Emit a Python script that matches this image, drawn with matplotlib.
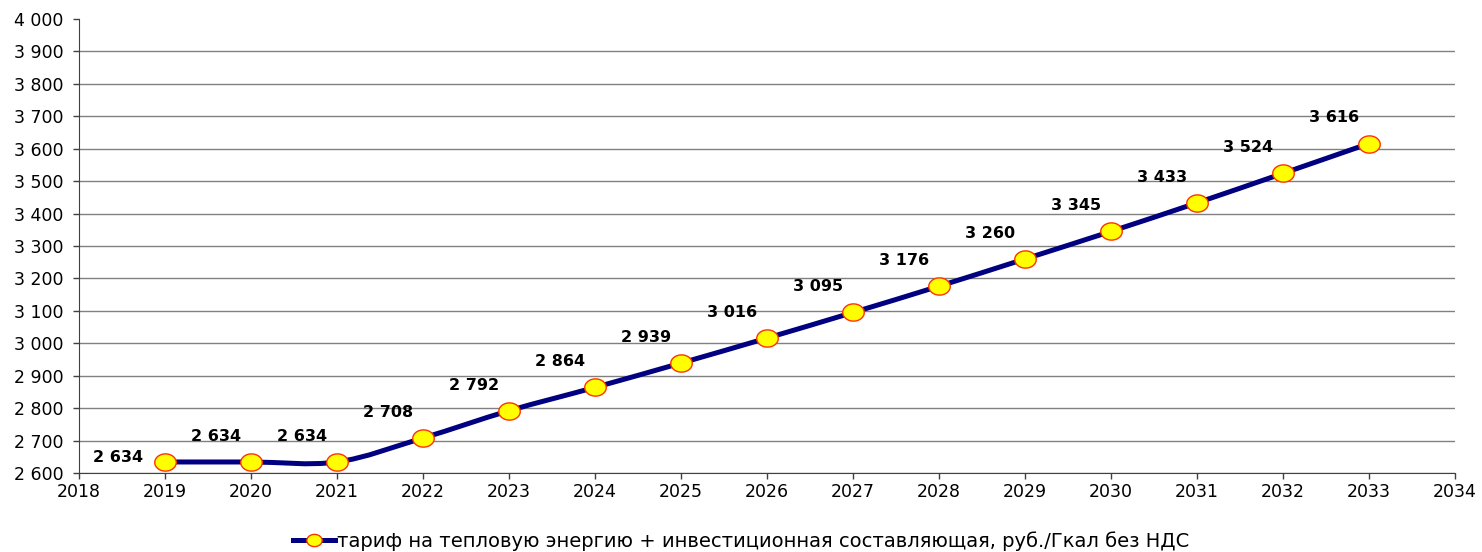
import matplotlib.pyplot as plt
import numpy as np
from matplotlib.path import Path
from matplotlib.patches import PathPatch
from matplotlib.lines import Line2D

plt.rcParams['font.family'] = ['DejaVu Sans']

years = [2019, 2020, 2021, 2022, 2023, 2024, 2025, 2026, 2027, 2028, 2029, 2030, 2031, 2032, 2033]
tariff = [2634, 2634, 2634, 2708, 2792, 2864, 2939, 3016, 3095, 3176, 3260, 3345, 3433, 3524, 3616]
series_name = 'тариф на тепловую энергию + инвестиционная составляющая, руб./Гкал без НДС'

fig = plt.figure(figsize=(14.82, 5.52), dpi=100)
ax = fig.add_axes([79/1482, 1-473/552, (1455-79)/1482, (473-19)/552])

# smoothed line like Excel (bezier segments through the data points)
x = np.array(years, dtype=float)
y = np.array(tariff, dtype=float)
verts = [(x[0], y[0])]
codes = [Path.MOVETO]
n = len(x)
for i in range(n - 1):
    x0, y0 = (x[i-1], y[i-1]) if i > 0 else (x[i], y[i])
    x3, y3 = (x[i+2], y[i+2]) if i + 2 < n else (x[i+1], y[i+1])
    c1 = (x[i] + (x[i+1] - x0) / 6, y[i] + (y[i+1] - y0) / 6)
    c2 = (x[i+1] - (x3 - x[i]) / 6, y[i+1] - (y3 - y[i]) / 6)
    verts += [c1, c2, (x[i+1], y[i+1])]
    codes += [Path.CURVE4] * 3
ax.add_patch(PathPatch(Path(verts, codes), facecolor='none', edgecolor='#000080', lw=3.6, zorder=3))

# slightly flattened circle, like the original marker
t = np.linspace(0, 2*np.pi, 60)
ellipse = Path(np.column_stack([np.cos(t), 0.8*np.sin(t)]))

ax.plot(years, tariff, ls='none', marker=ellipse, ms=15.5, mfc='#ffff00', mec='#ff3300', mew=1.0, zorder=4)

for i, (xx, yy) in enumerate(zip(years, tariff)):
    lbl = f'{yy:,}'.replace(',', ' ')
    off = (-34, 3) if i == 0 else (-25, 18.5)
    ax.annotate(lbl, (xx, yy), xytext=off, textcoords='offset points',
                ha='center', va='center', fontsize=11.5, fontweight='bold', zorder=5)

ax.set_xlim(2018, 2034)
ax.set_ylim(2600, 4000)
ax.set_xticks(range(2018, 2035))
ax.set_yticks(range(2600, 4001, 100))
ax.set_yticklabels([f'{v:,}'.replace(',', ' ') for v in range(2600, 4001, 100)])
ax.tick_params(labelsize=12.5, direction='out', length=4, color='#404040', width=1)
ax.tick_params(axis='y', pad=7)
ax.grid(axis='y', color='#808080', lw=1)
ax.yaxis.get_gridlines()[-1].set_visible(False)
ax.set_axisbelow(True)
for s in ['top', 'right']:
    ax.spines[s].set_visible(False)
for s in ['left', 'bottom']:
    ax.spines[s].set_color('#404040')

handle = Line2D([], [], color='#000080', lw=3.6, marker=ellipse, ms=11, mfc='#ffff00', mec='#ff3300')
fig.legend([handle], [series_name], loc='center', bbox_to_anchor=(741/1482, 1-541/552),
           frameon=False, fontsize=14, handlelength=2.2, handletextpad=0.1)

fig.savefig('out.png', dpi=100)
